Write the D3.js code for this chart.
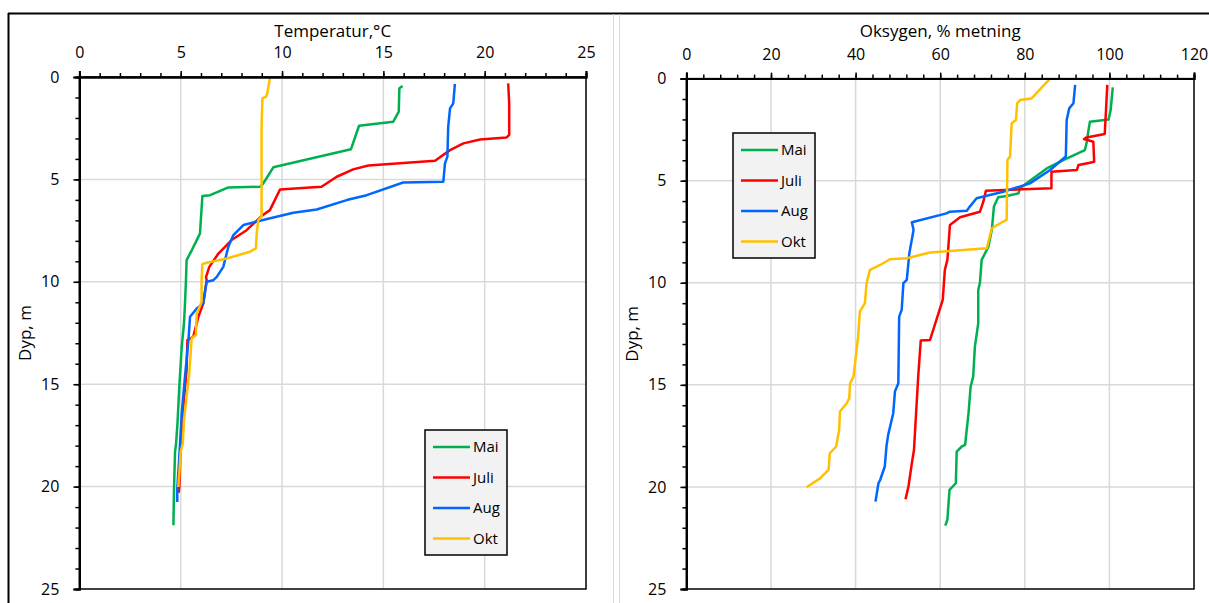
<!DOCTYPE html>
<html>
<head>
<meta charset="utf-8">
<script src="https://cdn.jsdelivr.net/npm/d3@7"></script>
<style>
body{margin:0;background:#fff;}
svg{display:block;font-family:"Open Sans",sans-serif;}
</style>
</head>
<body>
<svg id="chart" width="1209" height="603"></svg>
<script>
// series names and colours
const seriesNames=["Mai","Juli","Aug","Okt"];
const seriesColors=["#00b050","#ff0000","#0066ff","#ffc000"];

// temperature profiles, [temperature C, depth m]
const tempMai=[[15.95,0.44],[15.79,0.55],[15.76,1.69],[15.49,2.18],[13.8,2.38],[13.4,3.53],[9.57,4.41],[9.07,5.2],[8.91,5.36],[7.35,5.39],[6.86,5.6],[6.45,5.77],[6.07,5.81],[5.95,7.64],[5.75,8.05],[5.55,8.45],[5.29,8.94],[5.26,9.92],[5.2,11.3],[5.16,12.04],[5.05,13.18],[4.93,15.13],[4.84,16.92],[4.77,17.9],[4.72,18.3],[4.67,20.1],[4.64,21.89]];
const tempJuli=[[21.16,0.31],[21.21,1.29],[21.21,2.83],[21.08,2.95],[19.77,3.05],[18.95,3.24],[18.29,3.57],[17.55,4.09],[14.26,4.32],[13.51,4.51],[12.7,4.87],[11.95,5.36],[11.38,5.39],[9.9,5.49],[9.4,6.5],[8.99,6.79],[8.25,7.48],[7.51,7.96],[6.86,8.62],[6.41,9.27],[6.25,9.76],[6.28,9.92],[6.11,11.06],[5.87,11.71],[5.62,12.69],[5.33,12.85],[5.29,14.3],[5.13,16.1],[5.0,18.06],[4.93,20.02],[4.9,20.3]];
const tempAug=[[18.53,0.34],[18.45,1.29],[18.29,1.53],[18.2,2.43],[18.16,3.89],[18.04,4.22],[17.96,5.11],[15.98,5.15],[14.18,5.77],[13.19,6.01],[11.71,6.47],[10.56,6.63],[9.57,6.86],[8.91,7.02],[8.09,7.23],[7.6,7.72],[7.35,8.29],[7.1,9.27],[6.78,9.76],[6.61,9.92],[6.28,10.0],[6.11,11.06],[5.79,11.3],[5.46,11.71],[5.38,12.85],[5.21,14.64],[5.05,16.43],[4.93,18.55],[4.83,20.1],[4.83,20.75]];
const tempOkt=[[9.4,0.07],[9.27,0.8],[9.21,0.96],[9.03,1.04],[8.99,2.43],[8.99,6.82],[8.83,6.99],[8.75,7.64],[8.71,8.37],[8.42,8.53],[7.27,8.86],[6.28,9.07],[6.07,9.14],[6.03,9.92],[6.03,10.98],[5.79,11.55],[5.75,12.6],[5.54,12.77],[5.42,14.48],[5.29,15.62],[5.16,16.76],[5.1,17.9],[5.0,18.3],[4.93,19.37],[4.88,20.02]];

// oxygen profiles, [% saturation, depth m]
const oxyMai=[[100.8,0.43],[100.3,1.54],[99.8,2.0],[95.4,2.11],[95.0,2.6],[94.6,3.17],[94.2,3.5],[89.1,3.99],[85.2,4.4],[81.2,5.0],[78.9,5.37],[78.5,5.62],[75.7,5.75],[73.7,5.81],[72.7,6.27],[72.2,7.42],[71.4,8.23],[70.2,8.72],[69.8,8.88],[69.4,10.0],[69.0,10.35],[69.0,11.98],[68.2,13.13],[67.8,14.6],[67.2,15.08],[66.7,16.39],[66.1,17.53],[65.9,17.94],[65.1,18.02],[63.9,18.27],[63.7,19.82],[62.2,20.15],[61.7,21.6],[61.2,21.9]];
const oxyJuli=[[99.5,0.31],[99.2,1.54],[98.9,2.71],[94.6,2.88],[94.0,2.96],[96.2,3.09],[96.4,4.07],[95.4,4.12],[92.7,4.23],[92.3,4.48],[86.3,4.56],[86.3,5.37],[70.8,5.49],[70.2,6.03],[69.4,6.52],[64.7,6.79],[62.3,7.17],[61.7,8.88],[61.1,9.37],[60.6,10.84],[57.6,12.8],[55.4,12.83],[54.8,14.6],[54.3,16.39],[53.8,18.19],[53.3,18.84],[52.5,19.98],[51.8,20.6]];
const oxyAug=[[91.9,0.31],[91.5,1.21],[90.5,1.46],[89.9,2.03],[89.7,3.82],[88.7,3.99],[86.0,4.48],[81.2,5.13],[74.9,5.54],[68.6,5.86],[67.0,6.27],[66.3,6.47],[62.3,6.52],[61.5,6.6],[53.3,7.04],[53.7,7.42],[52.7,8.56],[52.1,9.86],[51.3,10.02],[50.9,11.33],[50.3,11.66],[50.1,14.92],[49.3,15.33],[48.9,16.39],[47.7,17.45],[47.3,18.0],[46.9,19.0],[45.8,19.66],[45.4,19.82],[44.7,20.72]];
const oxyOkt=[[85.8,0.04],[81.6,0.97],[78.9,1.05],[78.2,1.21],[77.9,2.03],[76.9,2.19],[76.5,3.82],[75.9,3.99],[75.7,6.92],[74.9,7.0],[72.2,7.33],[71.0,8.31],[65.5,8.39],[57.6,8.52],[52.1,8.8],[48.1,8.85],[45.8,9.13],[43.4,9.37],[42.6,10.02],[42.2,11.0],[41.0,11.41],[40.6,12.64],[39.5,14.6],[38.7,14.92],[38.5,15.66],[37.9,15.9],[36.3,16.31],[36.1,17.21],[35.4,18.02],[33.9,18.35],[33.6,19.17],[31.6,19.58],[28.4,20.02]];

const svg=d3.select("#chart");

// chart frames
const frame=svg.append("g");
frame.append("line").attr("x1",8).attr("x2",1209).attr("y1",13.5).attr("y2",13.5).attr("stroke","#000").attr("stroke-width",2);
frame.append("line").attr("x1",8.5).attr("x2",8.5).attr("y1",13).attr("y2",603).attr("stroke","#000").attr("stroke-width",2);
frame.append("line").attr("x1",613.5).attr("x2",613.5).attr("y1",14).attr("y2",603).attr("stroke","#d9d9d9").attr("stroke-width",1);
frame.append("line").attr("x1",619.5).attr("x2",619.5).attr("y1",14).attr("y2",603).attr("stroke","#d9d9d9").attr("stroke-width",1);

function panel(opt){
  const x=d3.scaleLinear().domain([0,opt.xmax]).range([opt.left,opt.right]);
  const y=d3.scaleLinear().domain([0,25]).range([opt.top,opt.bottom]);
  const g=svg.append("g");

  // grid
  g.append("g").selectAll("line").data(d3.range(opt.xstep,opt.xmax,opt.xstep)).join("line")
    .attr("x1",d=>x(d)).attr("x2",d=>x(d)).attr("y1",opt.top).attr("y2",opt.bottom)
    .attr("stroke","#d9d9d9").attr("stroke-width",1.5);
  g.append("g").selectAll("line").data([5,10,15,20]).join("line")
    .attr("y1",d=>y(d)).attr("y2",d=>y(d)).attr("x1",opt.left).attr("x2",opt.right)
    .attr("stroke","#d9d9d9").attr("stroke-width",1.5);

  // plot border
  g.append("rect").attr("x",opt.left).attr("y",opt.top)
    .attr("width",opt.right-opt.left).attr("height",opt.bottom-opt.top)
    .attr("fill","none").attr("stroke","#000").attr("stroke-width",1.5);

  // profiles
  const line=d3.line().x(d=>x(d[0])).y(d=>y(d[1]));
  opt.series.forEach((s,i)=>{
    g.append("path").datum(s).attr("d",line).attr("fill","none")
      .attr("stroke",seriesColors[i]).attr("stroke-width",2.5)
      .attr("stroke-linejoin","round");
  });

  // axes
  const xMinor=g.append("g").attr("transform","translate(0,"+opt.top+")")
    .call(d3.axisTop(x).tickValues(d3.range(0,opt.xmax+0.01,opt.xstep/5)).tickSize(4).tickFormat(""));
  const xMajor=g.append("g").attr("transform","translate(0,"+opt.top+")")
    .call(d3.axisTop(x).tickValues(d3.range(0,opt.xmax+0.01,opt.xstep)).tickSize(6).tickPadding(13));
  const yMinor=g.append("g").attr("transform","translate("+opt.left+",0)")
    .call(d3.axisLeft(y).tickValues(d3.range(0,25.01,1)).tickSize(4).tickFormat(""));
  const yMajor=g.append("g").attr("transform","translate("+opt.left+",0)")
    .call(d3.axisLeft(y).tickValues(d3.range(0,25.01,5)).tickSize(6).tickPadding(14));
  [xMinor,xMajor,yMinor,yMajor].forEach(a=>{
    a.select(".domain").attr("stroke","#000").attr("stroke-width",2);
    a.selectAll(".tick line").attr("stroke","#000").attr("stroke-width",1.5);
    a.selectAll("text").attr("font-size",16).attr("fill","#000").attr("font-family","'Open Sans',sans-serif");
  });

  // titles
  g.append("text").attr("x",(opt.left+opt.right)/2).attr("y",37).attr("text-anchor","middle")
    .attr("font-size",17).text(opt.title);
  g.append("text").attr("transform","translate("+(opt.left-48)+","+((opt.top+opt.bottom)/2)+") rotate(-90)")
    .attr("text-anchor","middle").attr("font-size",17).text("Dyp, m");

  // legend
  const lg=g.append("g").attr("transform","translate("+opt.legend[0]+","+opt.legend[1]+")");
  lg.append("rect").attr("x",0).attr("y",0).attr("width",82).attr("height",125)
    .attr("fill","#f2f2f2").attr("stroke","#000").attr("stroke-width",1.5);
  seriesNames.forEach((n,i)=>{
    const yy=17+i*30.5;
    lg.append("line").attr("x1",8).attr("x2",45).attr("y1",yy).attr("y2",yy)
      .attr("stroke",seriesColors[i]).attr("stroke-width",2.5);
    lg.append("text").attr("x",48).attr("y",yy+5).attr("font-size",15).text(n);
  });
}

panel({left:79.4,right:586,top:77,bottom:589,xmax:25,xstep:5,
  title:"Temperatur,°C",series:[tempMai,tempJuli,tempAug,tempOkt],legend:[425,430]});
panel({left:686.4,right:1194,top:78.6,bottom:589,xmax:120,xstep:20,
  title:"Oksygen, % metning",series:[oxyMai,oxyJuli,oxyAug,oxyOkt],legend:[733,133]});
</script>
</body>
</html>
